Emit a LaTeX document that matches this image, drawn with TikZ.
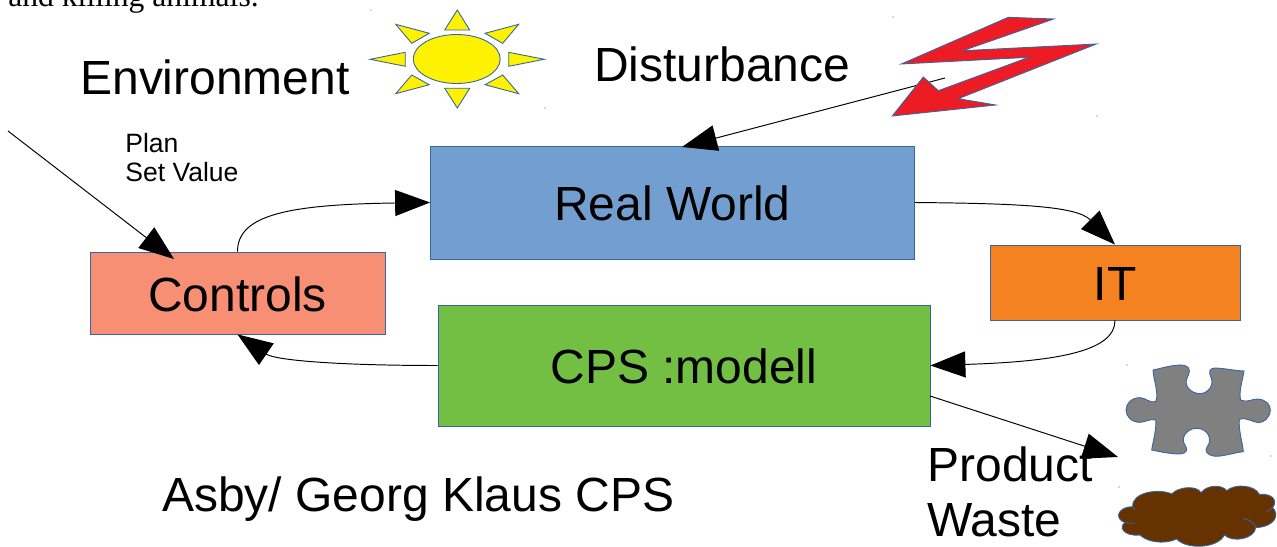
\documentclass[tikz,border=0pt]{standalone}
\usepackage{fontspec}
\setmainfont{Liberation Sans}
\newfontfamily\cuttext{Liberation Serif}
\usetikzlibrary{arrows.meta}
\definecolor{edgeblue}{HTML}{3465A4}
\tikzset{
  blockbox/.style={draw=edgeblue, line width=0.5pt, inner sep=0pt, text height=21pt, font=\fontsize{27.3}{31}\selectfont},
  biglabel/.style={anchor=base west, inner sep=0pt, font=\fontsize{27.3}{31}\selectfont},
  link/.style={black, line width=0.55pt, -{Triangle[length=0.7cm,width=0.52cm]}},
  shapeline/.style={draw=edgeblue, line width=0.5pt}
}
\begin{document}
\begin{tikzpicture}[x=0.02cm, y=-0.02cm]
            \useasboundingbox (0,0) rectangle (1277,547);

            % Text cut off at the top
            \node[anchor=base west, inner sep=0pt, font=\cuttext\fontsize{18}{21}\selectfont] (cutline) at (8,7) {and killing animals.};

            % Blocks
            \node[blockbox, fill={rgb,255:red,114;green,159;blue,207}, minimum width=9.68cm, minimum height=2.26cm] (realworld) at (672.5,202.5) {Real World};
            \node[blockbox, fill={rgb,255:red,247;green,143;blue,117}, minimum width=5.9cm, minimum height=1.64cm] (controls) at (237.5,293) {Controls};
            \node[blockbox, fill={rgb,255:red,245;green,130;blue,32}, minimum width=5cm, minimum height=1.5cm] (it) at (1115,282.5) {IT};
            \node[blockbox, fill={rgb,255:red,114;green,191;blue,68}, minimum width=9.84cm, minimum height=2.42cm] (cps) at (684,365.5) {CPS :modell};

            % Labels
            \node[biglabel] (environment) at (80,95) {Environment};
            \node[biglabel] (disturbance) at (594,82) {Disturbance};
            \node[biglabel] (asby) at (162,511) {Asby/ Georg Klaus CPS};
            \node[anchor=base west, inner sep=0pt, align=left, font=\fontsize{15.1}{17}\selectfont] (plan) at (125,182) {Plan\\Set Value};

            % Free ends
            \coordinate (planstart) at (8,131);
            \coordinate (controlstip) at (174,259);
            \coordinate (boltend) at (945,78);
            \coordinate (realtip) at (682,147);
            \coordinate (cpsout) at (930,396);
            \coordinate (outtip) at (1118,457);

            % Arrows
            \draw[link] (planstart) -- (controlstip);
            \draw[link] (boltend) -- (realtip);
            \draw[link] (controls.north) .. controls +(0,-37) and +(-141,2) .. (realworld.west);
            \draw[link] (realworld.east) .. controls +(110,1) and +(-38,-38) .. (it.north);
            \draw[link] (it.south) .. controls +(0,30) and +(130,-4) .. (cps.east);
            \draw[link] (cps.west) .. controls +(-98,0) and +(38,26) .. (controls.south);
            \draw[link] (cpsout) -- (outtip);

            % Product and waste, over the arrow
            \node[anchor=base west, inner sep=0pt, align=left, font=\fontsize{27.3}{31.2}\selectfont] (product) at (927,536) {Product\\Waste};

            % Sun
            \draw[shapeline, fill=yellow] (456.7,59) ellipse (43.5 and 24.5);
            \draw[shapeline, fill=yellow] (457.3,10) -- (444.7,30) -- (469.7,30) -- cycle;
            \draw[shapeline, fill=yellow] (457.3,108) -- (444.7,88.3) -- (469.7,88.3) -- cycle;
            \draw[shapeline, fill=yellow] (370,59.3) -- (405.3,52.3) -- (405.3,66.3) -- cycle;
            \draw[shapeline, fill=yellow] (544.3,59.3) -- (508.7,52.3) -- (508.7,66.3) -- cycle;
            \draw[shapeline, fill=yellow] (395.7,24.3) -- (429.3,33.3) -- (411.7,43.3) -- cycle;
            \draw[shapeline, fill=yellow] (518.7,24.3) -- (485,33.3) -- (502.7,43.3) -- cycle;
            \draw[shapeline, fill=yellow] (395.7,93.7) -- (429.3,84.7) -- (411.7,75) -- cycle;
            \draw[shapeline, fill=yellow] (518.7,93.7) -- (485,84.7) -- (502.7,75) -- cycle;

            % Lightning bolt
            \draw[shapeline, fill={rgb,255:red,237;green,28;blue,36}] (901.3,64) -- (1008.3,17.3) -- (1053.7,19) -- (962.7,50.7) -- (1096.3,44) -- (958.3,98.7) -- (995.7,105) -- (892.3,116) -- (923.3,77) -- (938.3,90.7) -- (1029,57.3) -- cycle;

            % Puzzle piece and cloud, in zoomed coordinates
            \begin{scope}[shift={(1090,350)}, x=0.006667cm, y=-0.006667cm]
            \draw[shapeline, fill=gray] (189,60) .. controls (215,55) and (260,40) .. (285,47) .. controls (305,55) and (298,70) .. (292,82) .. controls (280,105) and (300,130) .. (330,131) .. controls (355,130) and (372,105) .. (364,85) .. controls (355,65) and (358,55) .. (375,54) .. controls (405,55) and (435,62) .. (462,63) .. controls (458,90) and (445,130) .. (452,150) .. controls (470,160) and (490,145) .. (505,147) .. controls (530,150) and (541,165) .. (541,180) .. controls (540,205) and (520,218) .. (505,218) .. controls (485,215) and (465,200) .. (448,208) .. controls (445,240) and (458,280) .. (460,305) .. controls (430,308) and (395,322) .. (370,318) .. controls (345,312) and (345,300) .. (352,290) .. controls (370,265) and (350,235) .. (320,235) .. controls (290,235) and (270,265) .. (285,285) .. controls (295,300) and (290,310) .. (270,312) .. controls (240,312) and (210,305) .. (185,300) .. controls (190,270) and (200,235) .. (197,210) .. controls (180,205) and (165,217) .. (150,217) .. controls (125,217) and (108,200) .. (108,180) .. controls (108,160) and (125,143) .. (150,143) .. controls (165,143) and (180,160) .. (197,155) .. controls (208,130) and (190,90) .. (189,60) -- cycle;
            \draw[shapeline, fill={rgb,255:red,102;green,51;blue,0}] (128,470) .. controls (125,425) and (210,415) .. (245,432) .. controls (265,410) and (320,405) .. (333,428) .. controls (350,405) and (395,402) .. (410,422) .. controls (435,400) and (495,405) .. (508,433) .. controls (545,430) and (565,450) .. (548,473) .. controls (570,495) and (555,530) .. (497,533) .. controls (495,565) and (430,580) .. (403,555) .. controls (385,595) and (290,600) .. (260,567) .. controls (220,585) and (170,575) .. (150,555) .. controls (100,560) and (85,530) .. (105,518) .. controls (70,505) and (85,470) .. (128,470) -- cycle;
            \draw[shapeline] (105,518) -- (135,520);
            \draw[shapeline] (460,505) .. controls (480,510) and (495,520) .. (497,533);
            \draw[shapeline] (530,485) -- (548,473);
            \draw[shapeline] (128,470) -- (134,480);
            \end{scope}

            % Small marks
            \foreach \px/\py in {371/10, 545/108, 893/17, 1097/116, 1127/365, 1271/456, 1119/487} {
              \fill[edgeblue] (\px,\py) circle (0.6);
            }
\end{tikzpicture}
\end{document}
